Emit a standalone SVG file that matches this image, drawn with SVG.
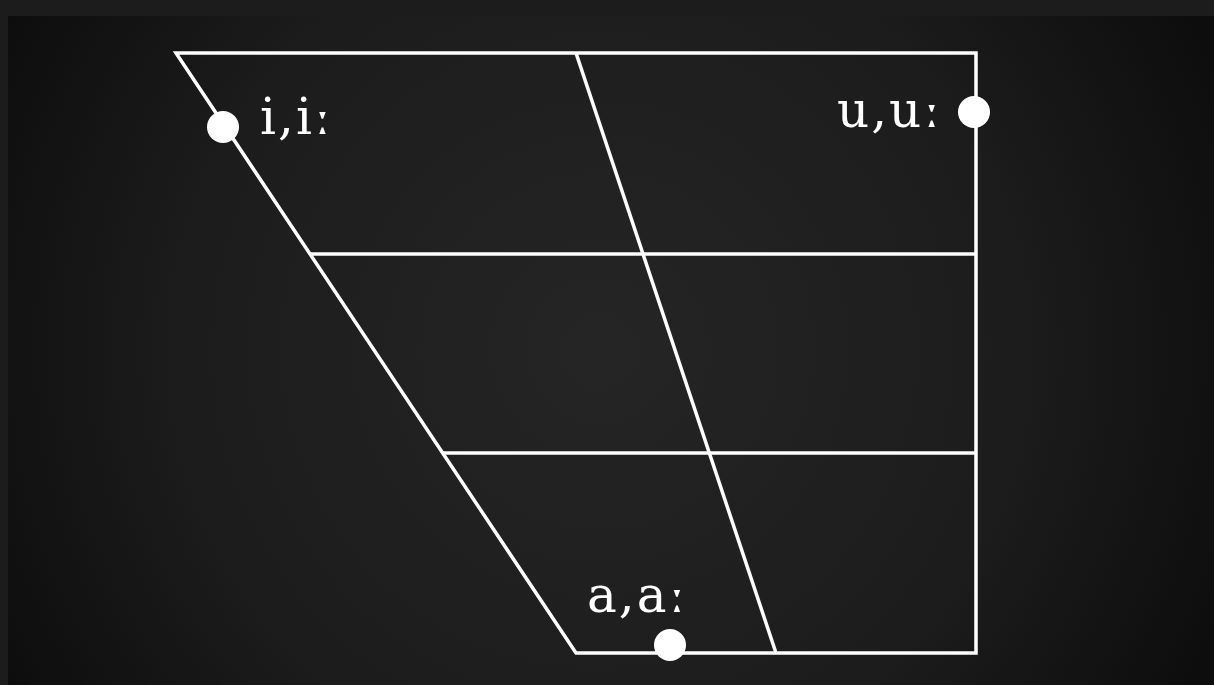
<svg xmlns="http://www.w3.org/2000/svg" width="1214" height="685" viewBox="0 0 1214 685">
<defs>
<radialGradient id="bg" cx="600" cy="350" r="700" gradientUnits="userSpaceOnUse">
<stop offset="0" stop-color="#252525"/>
<stop offset="0.6" stop-color="#1c1c1c"/>
<stop offset="1" stop-color="#0c0c0c"/>
</radialGradient>
<style>
.ln{stroke:#fff;stroke-width:3.5;fill:none;stroke-linejoin:miter}
.dot{fill:#fff}
.lbl{fill:#fff;font-family:"DejaVu Serif","Liberation Serif",serif;font-size:50px;letter-spacing:2px}
</style>
</defs>
<rect x="0" y="0" width="1214" height="685" fill="#1c1c1c"/>
<rect x="8" y="16" width="1206" height="669" fill="url(#bg)"/>
<g id="connectors">
<polygon class="ln" points="176,53 976,53 976,653 576,653"/>
<line class="ln" x1="576" y1="53" x2="776" y2="653"/>
<line class="ln" x1="310" y1="254" x2="976" y2="254"/>
<line class="ln" x1="443" y1="453" x2="976" y2="453"/>
</g>
<g id="node-i">
<circle class="dot" cx="223" cy="127" r="16"/>
<text class="lbl" x="260" y="134">i,iː</text>
</g>
<g id="node-u">
<circle class="dot" cx="974" cy="112" r="16"/>
<text class="lbl" x="837" y="127">u,uː</text>
</g>
<g id="node-a">
<circle class="dot" cx="670" cy="645" r="16"/>
<text class="lbl" x="587" y="612">a,aː</text>
</g>
</svg>
